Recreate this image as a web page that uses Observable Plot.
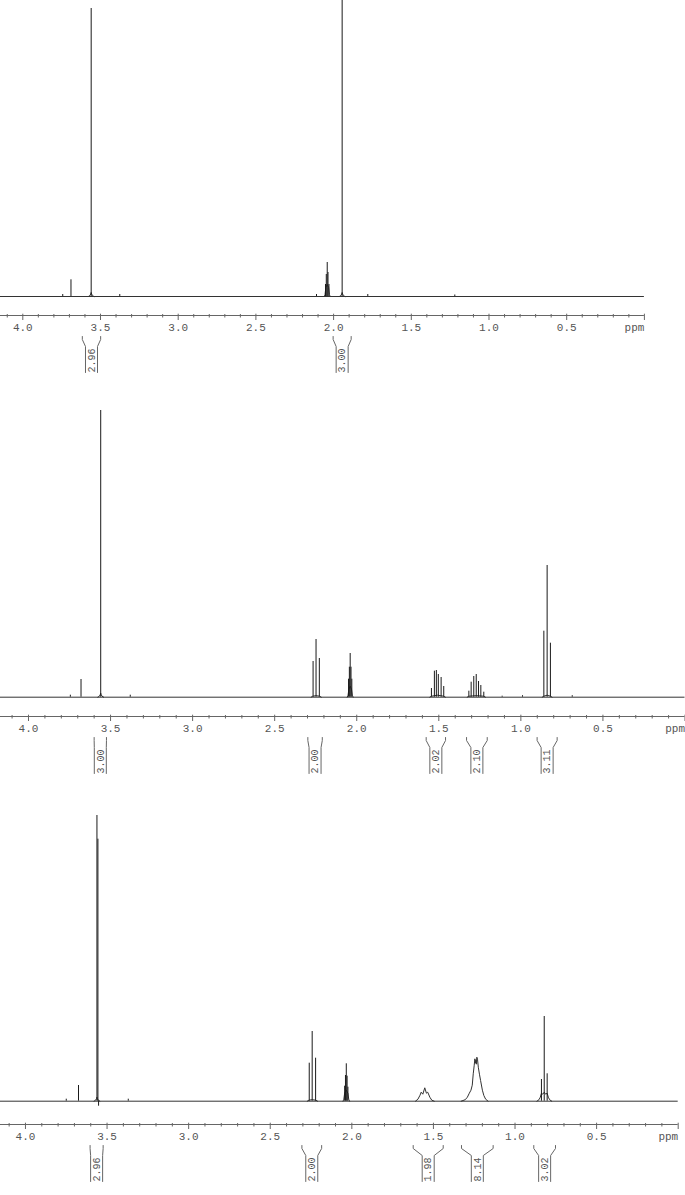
<!DOCTYPE html>
<html><head><meta charset="utf-8">
<script src="https://cdn.jsdelivr.net/npm/d3@7"></script>
<script src="https://cdn.jsdelivr.net/npm/@observablehq/plot@0.6"></script>
<style>html,body{margin:0;padding:0;background:#fff}#c svg{display:block}</style>
</head><body><div id="c"></div>
<script>
const FONT = "'Liberation Mono', 'DejaVu Sans Mono', monospace";

// tick labels (ppm)
const majorTicks = [4.0, 3.5, 3.0, 2.5, 2.0, 1.5, 1.0, 0.5];

// ---------- Panel 1 : [ppm, intensity] ----------
const p1Sticks = [[3.743,2],[3.690,16.7],[3.560,288],[3.376,2],[2.110,2],
  [2.052,12],[2.047,22],[2.041,34],[2.036,24],[2.030,12],[1.945,296],[1.780,2],[1.220,1.5]];
const p1Humps = [
  [[3.578,0],[3.568,1],[3.563,2.5],[3.560,4],[3.557,2.5],[3.552,1],[3.542,0]],
  [[1.963,0],[1.953,1],[1.948,2.5],[1.945,4],[1.942,2.5],[1.937,1],[1.927,0]],
  [[2.060,0],[2.055,2],[2.050,9],[2.041,12],[2.032,9],[2.027,2],[2.022,0]]
];
const p1Integrals = [[3.617,3.499,"2.96"],[2.003,1.887,"3.00"]];

// ---------- Panel 2 ----------
const p2Sticks = [[3.745,2],[3.680,17.7],[3.560,286.7],[3.380,2],
  [2.266,35.7],[2.248,57.7],[2.228,38.7],
  [2.050,18],[2.045,30],[2.040,43.7],[2.035,30],[2.030,18],
  [1.545,8.7],[1.527,26],[1.515,26.7],[1.503,22.7],[1.486,19.7],[1.470,10.7],
  [1.317,6],[1.303,15],[1.287,20.7],[1.272,22.7],[1.258,15.7],[1.244,11.7],[1.226,5],
  [1.114,1],[0.990,1.5],[0.860,66],[0.840,131.7],[0.820,54],[0.687,1.5]];
const p2Humps = [
  [[3.578,0],[3.568,1],[3.563,2.5],[3.560,4],[3.557,2.5],[3.552,1],[3.542,0]],
  [[2.058,0],[2.053,2],[2.048,8],[2.040,11],[2.032,8],[2.027,2],[2.022,0]],
  [[2.278,0],[2.268,1],[2.248,1.5],[2.226,1],[2.216,0]],
  [[1.555,0],[1.545,1],[1.507,2],[1.470,1],[1.460,0]],
  [[1.327,0],[1.317,1],[1.272,1.5],[1.226,1],[1.216,0]],
  [[0.870,0],[0.860,1],[0.840,2],[0.820,1],[0.810,0]]
];
const p2Integrals = [[3.600,3.525,"3.00"],[2.298,2.210,"2.00"],[1.577,1.459,"2.02"],[1.331,1.205,"2.10"],[0.901,0.779,"3.11"]];

// ---------- Panel 3 ----------
const p3Sticks = [[3.750,2],[3.675,15.7],[3.562,285.7],[3.556,262],[3.552,-5],[3.370,2],
  [2.261,38],[2.243,69.7],[2.222,43],
  [2.044,15],[2.039,25.7],[2.034,37.4],[2.029,25],[2.024,14],
  [0.838,21.7],[0.821,84.7],[0.803,27.4]];
const p3Humps = [
  [[3.580,0],[3.570,1],[3.565,2.5],[3.562,4],[3.559,2.5],[3.554,1],[3.544,0]],
  [[2.054,0],[2.049,2],[2.044,8],[2.034,11],[2.024,8],[2.019,2],[2.014,0]],
  [[2.273,0],[2.263,1],[2.243,1.5],[2.220,1],[2.210,0]],
  [[1.610,0],[1.595,2],[1.582,6],[1.575,9],[1.565,7],[1.553,13.4],[1.543,8],[1.535,9],[1.522,4],[1.510,1],[1.495,0]],
  [[1.330,0],[1.305,1.5],[1.292,4],[1.280,8],[1.270,11],[1.262,16],[1.256,27.4],[1.250,36],[1.246,42.4],[1.243,38],
   [1.240,41.4],[1.237,37],[1.234,44],[1.230,42],[1.225,34],[1.218,27],[1.211,20.7],[1.200,11],[1.191,5.7],[1.180,2],[1.165,0]],
  [[0.866,0],[0.853,1.5],[0.845,4],[0.838,8],[0.830,7],[0.821,9],[0.812,7],[0.803,8],[0.796,4],[0.788,1.5],[0.775,0]]
];
const p3Integrals = [[3.604,3.524,"2.96"],[2.306,2.185,"2.00"],[1.624,1.440,"1.98"],[1.328,1.134,"8.14"],[0.885,0.752,"3.02"]];

// layout of the three panels
const panels = [
  {sticks: p1Sticks, humps: p1Humps, integrals: p1Integrals, xLeft: 4.1435, xRight: 643.9, height: 400, axisY: 315, baseY: 296},
  {sticks: p2Sticks, humps: p2Humps, integrals: p2Integrals, xLeft: 4.1706, xRight: 684.5, height: 404, axisY: 316, baseY: 296.7},
  {sticks: p3Sticks, humps: p3Humps, integrals: p3Integrals, xLeft: 4.1530, xRight: 677.7, height: 391, axisY: 320, baseY: 296.7}
];

const minorTicks = d3.range(1, 42).map(i => i / 10).filter(t => Math.abs(t * 2 - Math.round(t * 2)) > 1e-6);

function drawPanel(p) {
  const pxPerPpm = p.xRight / p.xLeft;
  const yAx = -(p.axisY - p.baseY);
  const humpPts = p.humps.flatMap((h, i) => h.map(([x, y]) => ({x, y, id: i})));
  const brackets = [];
  p.integrals.forEach(([a, b, lab], i) => {
    const c = (a + b) / 2;
    const half = Math.abs(a - b) / 2;
    const inner = Math.min(half, 6 / pxPerPpm);
    brackets.push({x: c + half, y: yAx - 21, id: i + "L"}, {x: c + half, y: yAx - 24, id: i + "L"},
                  {x: c + inner, y: yAx - 31, id: i + "L"}, {x: c + inner, y: yAx - 57, id: i + "L"});
    brackets.push({x: c - half, y: yAx - 21, id: i + "R"}, {x: c - half, y: yAx - 24, id: i + "R"},
                  {x: c - inner, y: yAx - 31, id: i + "R"}, {x: c - inner, y: yAx - 57, id: i + "R"});
  });
  return Plot.plot({
    width: 685, height: p.height,
    margin: 0,
    x: {domain: [p.xLeft, 0], range: [0, p.xRight], axis: null},
    y: {domain: [yAx, p.baseY], range: [p.axisY, 0], axis: null},
    style: {background: "#fff", overflow: "hidden"},
    marks: [
      Plot.ruleY([0], {x1: p.xLeft, x2: 0, stroke: "#333", strokeWidth: 1}),
      Plot.line(humpPts, {x: "x", y: "y", z: "id", stroke: "#333", strokeWidth: 1}),
      Plot.ruleX(p.sticks, {x: d => d[0], y1: 0, y2: d => d[1], stroke: "#1a1a1a", strokeWidth: 1}),
      Plot.ruleY([yAx], {x1: p.xLeft, x2: 0, stroke: "#666", strokeWidth: 1}),
      Plot.ruleX([...majorTicks, 0], {x: d => d, y1: yAx + 1.3, y2: yAx - 5, stroke: "#666", strokeWidth: 1}),
      Plot.ruleX(minorTicks, {x: d => d, y1: yAx + 1, y2: yAx - 2.5, stroke: "#666", strokeWidth: 1}),
      Plot.text(majorTicks, {x: d => d, y: yAx, dy: 12, text: d => d.toFixed(1), fontFamily: FONT, fontSize: 11, fill: "#555"}),
      Plot.text(["ppm"], {x: 0, y: yAx, dy: 12, text: d => d, textAnchor: "end", fontFamily: FONT, fontSize: 11, fill: "#555"}),
      Plot.line(brackets, {x: "x", y: "y", z: "id", stroke: "#666", strokeWidth: 1}),
      Plot.text(p.integrals, {x: d => (d[0] + d[1]) / 2, y: yAx - 45, text: d => d[2], rotate: -90, fontFamily: FONT, fontSize: 10, fill: "#555"})
    ]
  });
}

const c = document.getElementById("c");
panels.forEach(p => c.appendChild(drawPanel(p)));
</script>
</body></html>
